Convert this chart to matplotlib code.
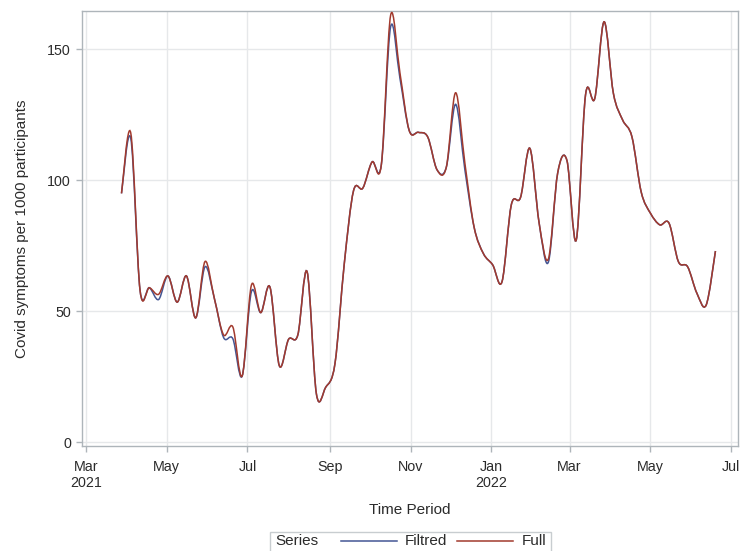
import numpy as np
import pandas as pd
import matplotlib
matplotlib.use('Agg')
import matplotlib.pyplot as plt
import matplotlib.dates as mdates
from matplotlib.path import Path
from matplotlib.patches import PathPatch, Rectangle
from matplotlib.lines import Line2D

plt.rcParams['font.family'] = ['Liberation Sans', 'DejaVu Sans']

# weekly values, symptoms per 1000 participants
weeks = pd.date_range('2021-03-28', periods=65, freq='7D')

full = [95, 118, 58, 59, 56.5, 63.5, 53.5, 63.5, 47.5, 69,
        55, 41, 44, 25.3, 60, 49.5, 59.2, 29.3, 39.3, 41,
        65.1, 18.5, 21, 30, 68, 96, 97, 107, 106, 163,
        141, 119, 118.3, 116.5, 104, 105, 133.4, 106.5, 82, 72,
        67.7, 61.3, 90.6, 93.5, 112.2, 83.7, 70, 102.8, 107.5, 77.2,
        132.6, 131.3, 160.5, 133.2, 123, 116.6, 95.5, 87.4, 83, 83.6,
        69, 67, 56.9, 52.4, 73]

filtred = [95, 116, 58, 59, 54.5, 63.5, 53.5, 63.5, 47.5, 67,
           55, 40, 39.5, 25.3, 57.5, 49.5, 59.2, 29.3, 39.3, 41,
           65.1, 18.5, 21, 30, 68, 96, 97, 107, 106, 158.6,
           139, 119, 118.3, 116.5, 104, 105, 129, 104, 82, 72,
           67.7, 61.3, 90.6, 93.5, 112.2, 83.7, 68.8, 102.8, 107.5, 77.2,
           132.6, 131.3, 160.5, 133.2, 123, 116.6, 95.5, 87.4, 83, 83.6,
           69, 67, 56.9, 52.4, 73]

tick_dates = ['2021-03-01', '2021-05-01', '2021-07-01', '2021-09-01', '2021-11-01',
              '2022-01-01', '2022-03-01', '2022-05-01', '2022-07-01']
tick_labels = ['Mar\n2021', 'May', 'Jul', 'Sep', 'Nov', 'Jan\n2022', 'Mar', 'May', 'Jul']

blue = '#445694'
red = '#A23A2E'
frame = '#AEB5BA'
grid = '#E6E8EA'
txt = '#2B2B2B'


def spline_path(x, y):
    # Catmull-Rom curve through every point, written as cubic Bezier pieces
    px = np.concatenate([[x[0]], x, [x[-1]]])
    py = np.concatenate([[y[0]], y, [y[-1]]])
    verts = [(x[0], y[0])]
    codes = [Path.MOVETO]
    for i in range(1, len(px) - 2):
        c1 = (px[i] + (px[i + 1] - px[i - 1]) / 6, py[i] + (py[i + 1] - py[i - 1]) / 6)
        c2 = (px[i + 1] - (px[i + 2] - px[i]) / 6, py[i + 1] - (py[i + 2] - py[i]) / 6)
        verts += [c1, c2, (px[i + 1], py[i + 1])]
        codes += [Path.CURVE4] * 3
    return Path(verts, codes)


fig = plt.figure(figsize=(7.47, 5.51), dpi=100)
ax = fig.add_axes([82 / 747, 105 / 551, 656 / 747, 435 / 551])

xnum = mdates.date2num(weeks.to_pydatetime())
ax.add_patch(PathPatch(spline_path(xnum, np.array(filtred)), facecolor='none',
                       edgecolor=blue, lw=1.1, zorder=3))
ax.add_patch(PathPatch(spline_path(xnum, np.array(full)), facecolor='none',
                       edgecolor=red, lw=1.1, zorder=4))

ax.set_xlim(mdates.date2num(pd.Timestamp('2021-02-26 05:00')),
            mdates.date2num(pd.Timestamp('2022-07-06')))
ax.set_ylim(-1.4, 164.6)

ax.set_xticks(mdates.date2num(pd.to_datetime(tick_dates).to_pydatetime()))
ax.set_xticklabels(tick_labels)
ax.set_yticks([0, 50, 100, 150])

ax.grid(True, color=grid, lw=1)
ax.set_axisbelow(True)
for s in ax.spines.values():
    s.set_color(frame)
    s.set_linewidth(1)
ax.tick_params(axis='both', colors=frame, labelcolor=txt, labelsize=10.3,
               length=4, width=1, direction='out')
ax.tick_params(axis='y', pad=4)
ax.tick_params(axis='x', pad=6)

ax.set_xlabel('Time Period', fontsize=11, color=txt, labelpad=9)
ax.set_ylabel('Covid symptoms per 1000 participants', fontsize=11, color=txt, labelpad=13)

# legend box along the bottom edge
yc = 1 - 540.7 / 551
fig.add_artist(Rectangle((270 / 747, -0.01), 281 / 747, 0.01 + (551 - 531.7) / 551,
                         transform=fig.transFigure, fill=False, edgecolor='#C8CDD0', lw=1))
fig.text(275 / 747, yc, 'Series', fontsize=11, color=txt, va='center', ha='left')
fig.add_artist(Line2D([340.7 / 747, 396.7 / 747], [yc, yc], color=blue, lw=1.1,
                      transform=fig.transFigure))
fig.text(405 / 747, yc, 'Filtred', fontsize=11, color=txt, va='center', ha='left')
fig.add_artist(Line2D([457.3 / 747, 513.3 / 747], [yc, yc], color=red, lw=1.1,
                      transform=fig.transFigure))
fig.text(521.7 / 747, yc, 'Full', fontsize=11, color=txt, va='center', ha='left')

fig.savefig('out.png', dpi=100)
plt.close(fig)
